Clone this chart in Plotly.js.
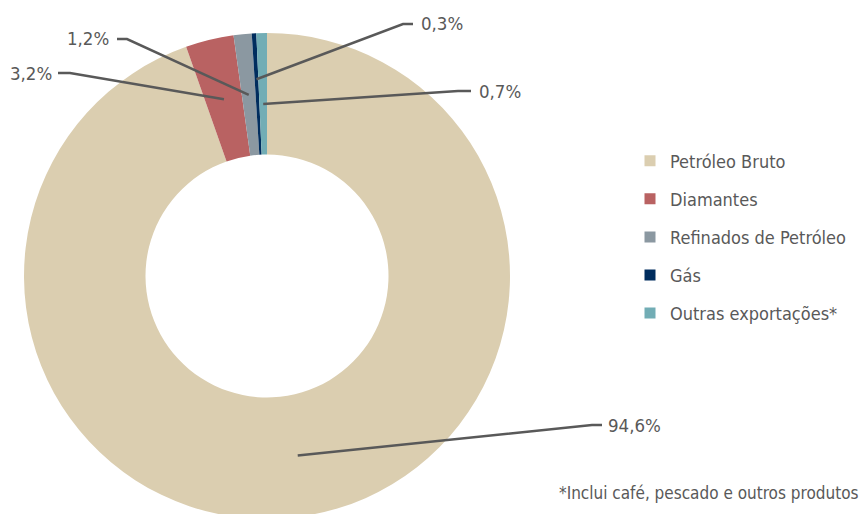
<!DOCTYPE html>
<html>
<head>
<meta charset="utf-8">
<script src="https://cdn.plot.ly/plotly-3.0.1.min.js"></script>
<style>
  html, body { margin: 0; padding: 0; background: #ffffff; overflow: hidden; }
  #chart { width: 862px; height: 540px; }
</style>
</head>
<body>
<div id="chart"></div>
<script>
// ---- data ----
const categories = ['Petróleo Bruto', 'Diamantes', 'Refinados de Petróleo', 'Gás', 'Outras exportações*'];
const shares = [94.6, 3.2, 1.2, 0.3, 0.7];
const footnote = '*Inclui café, pescado e outros produtos';

// ---- styles / placement ----
const colors = ['#DBCEB0', '#B96262', '#8B98A1', '#002D5E', '#72ADB5'];
const W = 862, H = 540;
const FONT = '"DejaVu Sans Condensed", "Liberation Sans Narrow", sans-serif';
const TXT = '#595959';
const cx = 267, cy = 276, R = 243;
// leader-line placement per slice (pixels): radius of anchor, elbow, end, label position
const labelPlace = [
  { r: 182, elbow: [592, 425], end: [602, 425], lx: 606, ly: 425, anchor: 'left' },
  { r: 182, elbow: [70, 73],   end: [58, 73],   lx: 54,  ly: 73,  anchor: 'right' },
  { r: 182, elbow: [127, 39],  end: [117, 39],  lx: 111, ly: 38,  anchor: 'right' },
  { r: 197, elbow: [403, 24],  end: [413, 24],  lx: 419, ly: 24,  anchor: 'left' },
  { r: 172, elbow: [458, 91],  end: [471, 91],  lx: 477, ly: 91,  anchor: 'left' }
];

const px = x => x / W;
const py = y => 1 - y / H;

const total = shares.reduce((a, b) => a + b, 0);
let cum = 0;
const shapes = [];
const annotations = [];
shares.forEach((v, i) => {
  const mid = (cum + v / 2) / total * 2 * Math.PI;
  cum += v;
  const p = labelPlace[i];
  const ax = cx + p.r * Math.sin(mid);
  const ay = cy - p.r * Math.cos(mid);
  shapes.push({
    type: 'path', xref: 'paper', yref: 'paper',
    path: `M ${px(ax)},${py(ay)} L ${px(p.elbow[0])},${py(p.elbow[1])} L ${px(p.end[0])},${py(p.end[1])}`,
    line: { color: TXT, width: 2.5 }
  });
  annotations.push({
    xref: 'paper', yref: 'paper', x: px(p.lx), y: py(p.ly),
    xanchor: p.anchor, yanchor: 'middle', showarrow: false,
    text: v.toFixed(1).replace('.', ',') + '%',
    font: { family: FONT, size: 18.5, color: TXT }
  });
});
annotations.push({
  xref: 'paper', yref: 'paper', x: px(861), y: py(493),
  xanchor: 'right', yanchor: 'middle', showarrow: false,
  text: footnote, font: { family: FONT, size: 17, color: TXT }
});

const traces = [{
  type: 'pie',
  labels: categories,
  values: shares,
  sort: false,
  direction: 'clockwise',
  rotation: 0,
  hole: 0.5,
  textinfo: 'none',
  hoverinfo: 'label+percent',
  showlegend: false,
  marker: { colors: colors, line: { width: 0 } },
  domain: { x: [px(cx - R), px(cx + R)], y: [py(cy + R), py(cy - R)] }
}];
categories.forEach((c, i) => {
  traces.push({
    type: 'scatter', mode: 'markers', x: [null], y: [null],
    name: c, legendgroup: 'g' + i,
    marker: { symbol: 'square', size: 11, color: colors[i] },
    hoverinfo: 'skip'
  });
});

const layout = {
  width: W, height: H,
  margin: { l: 0, r: 0, t: 0, b: 0 },
  paper_bgcolor: '#ffffff', plot_bgcolor: '#ffffff',
  font: { family: FONT, color: TXT },
  xaxis: { visible: false }, yaxis: { visible: false },
  showlegend: true,
  legend: {
    x: px(630), y: py(142.5), xanchor: 'left', yanchor: 'top',
    font: { family: FONT, size: 18, color: TXT },
    tracegroupgap: 11.7, bgcolor: 'rgba(0,0,0,0)', borderwidth: 0
  },
  shapes: shapes,
  annotations: annotations
};

Plotly.newPlot('chart', traces, layout, { displayModeBar: false, staticPlot: true });
</script>
</body>
</html>
